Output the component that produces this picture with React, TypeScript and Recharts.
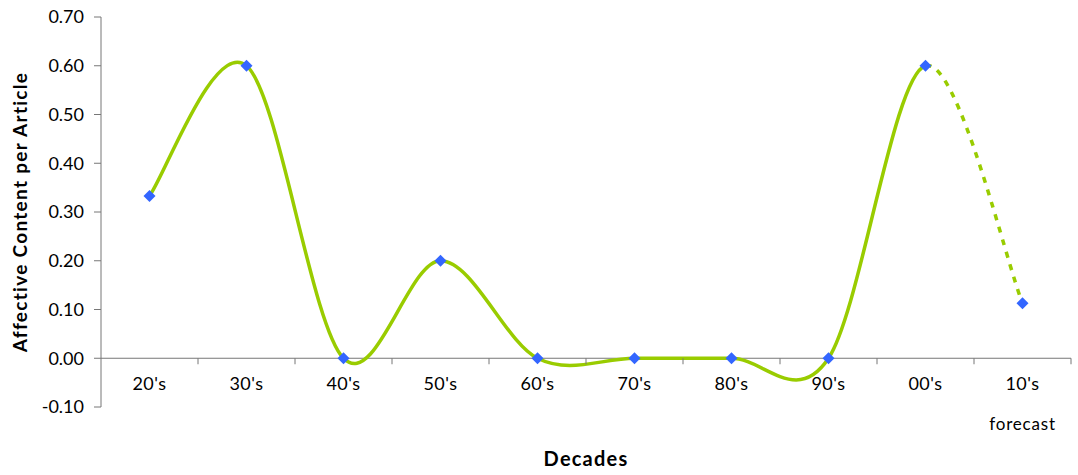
import React from "react";
import { LineChart, Line, XAxis, YAxis, ReferenceLine } from "recharts";

const categories = ["20's", "30's", "40's", "50's", "60's", "70's", "80's", "90's", "00's", "10's"];
const subLabels = ["", "", "", "", "", "", "", "", "", "forecast"];
const values = [0.333, 0.6, 0.0, 0.2, 0.0, 0.0, 0.0, 0.0, 0.6, 0.113];
const yTicks = [-0.1, 0, 0.1, 0.2, 0.3, 0.4, 0.5, 0.6, 0.7];

const data = categories.map((c, i) => ({ name: c, sub: subLabels[i], value: values[i] }));

const FONT = "Lato, 'Open Sans', sans-serif";
const GREEN = "#99CC00";
const BLUE = "#3366FF";
const AXIS = "#777777";

// Excel-like smoothed curve (Catmull-Rom style Bezier); mode selects which segments to draw
function segmentCurve(mode: "solid" | "last") {
  return (context: any) => {
    let pts: number[][] = [];
    return {
      areaStart() {},
      areaEnd() {},
      lineStart() {
        pts = [];
      },
      point(x: number, y: number) {
        pts.push([+x, +y]);
      },
      lineEnd() {
        const n = pts.length;
        if (n < 2) return;
        const from = mode === "solid" ? 0 : n - 2;
        const to = mode === "solid" ? n - 2 : n - 1;
        let started = false;
        for (let i = from; i < to; i++) {
          const p0 = pts[i - 1] || pts[i];
          const p1 = pts[i];
          const p2 = pts[i + 1];
          const p3 = pts[i + 2] || pts[i + 1];
          const c1x = p1[0] + (p2[0] - p0[0]) / 6;
          const c1y = p1[1] + (p2[1] - p0[1]) / 6;
          const c2x = p2[0] - (p3[0] - p1[0]) / 6;
          const c2y = p2[1] - (p3[1] - p1[1]) / 6;
          if (!started) {
            context.moveTo(p1[0], p1[1]);
            started = true;
          }
          context.bezierCurveTo(c1x, c1y, c2x, c2y, p2[0], p2[1]);
        }
      },
    };
  };
}

const solidCurve = segmentCurve("solid");
const lastCurve = segmentCurve("last");

const Diamond = (props: any) => {
  const { cx, cy, index } = props;
  if (cx == null || cy == null) return <g key={index} />;
  const s = 6;
  return (
    <path
      key={index}
      d={`M${cx},${cy - s}L${cx + s},${cy}L${cx},${cy + s}L${cx - s},${cy}Z`}
      fill={BLUE}
    />
  );
};

const HALF_BAND = 48.5;
const ZERO_OFFSET = 48.75;

const XTick = (props: any) => {
  const { x, y, payload, index } = props;
  const d = data[index] || { sub: "" };
  const zy = y - ZERO_OFFSET;
  return (
    <g>
      <line x1={x + HALF_BAND} y1={zy} x2={x + HALF_BAND} y2={zy + 6} stroke={AXIS} strokeWidth={1} />
      <text x={x} y={y - 17} textAnchor="middle" fontFamily={FONT} fontSize={18} letterSpacing={0.5} fill="#000">
        {payload.value}
      </text>
      {d.sub ? (
        <text x={x} y={y + 23} textAnchor="middle" fontFamily={FONT} fontSize={17} letterSpacing={0.8} fill="#000">
          {d.sub}
        </text>
      ) : null}
    </g>
  );
};

const YLabel = (props: any) => {
  const vb = props.viewBox || {};
  const cx = (vb.x || 0) + 19;
  const cy = (vb.y || 0) + (vb.height || 0) / 2;
  return (
    <text
      x={cx}
      y={cy}
      transform={`rotate(-90, ${cx}, ${cy})`}
      textAnchor="middle"
      dominantBaseline="central"
      fontFamily={FONT}
      fontWeight="bold"
      fontSize={19}
      letterSpacing={1.3}
      fill="#000"
    >
      Affective Content per Article
    </text>
  );
};

export default function App() {
  return (
    <div style={{ position: "absolute", left: 0, top: 0, width: 1078, height: 475, background: "#fff" }}>
      <LineChart width={1078} height={475} data={data} margin={{ top: 17, right: 7, bottom: 0, left: 0 }}>
        <XAxis
          dataKey="name"
          axisLine={false}
          tickLine={false}
          tickSize={0}
          tickMargin={0}
          height={68}
          interval={0}
          padding={{ left: HALF_BAND, right: HALF_BAND }}
          tick={<XTick />}
          label={{
            value: "Decades",
            position: "insideBottom",
            offset: 9,
            style: { fontFamily: FONT, fontWeight: "bold", fontSize: 20, letterSpacing: 1.2, fill: "#000" },
          }}
        />
        <YAxis
          domain={[-0.1, 0.7]}
          ticks={yTicks}
          interval={0}
          width={101}
          tickFormatter={(v: number) => v.toFixed(2)}
          axisLine={{ stroke: AXIS, strokeWidth: 1 }}
          tickLine={{ stroke: AXIS, strokeWidth: 1 }}
          tickSize={7}
          tickMargin={10}
          tick={{ fontFamily: FONT, fontSize: 18, fill: "#000" }}
          label={<YLabel />}
        />
        <ReferenceLine y={0} stroke={AXIS} strokeWidth={1} ifOverflow="visible" />
        <Line
          dataKey="value"
          type={solidCurve as any}
          stroke={GREEN}
          strokeWidth={3.5}
          dot={false}
          activeDot={false}
          isAnimationActive={false}
        />
        <Line
          dataKey="value"
          type={lastCurve as any}
          stroke={GREEN}
          strokeWidth={3.5}
          strokeDasharray="6 7"
          dot={<Diamond />}
          activeDot={false}
          isAnimationActive={false}
        />
      </LineChart>
    </div>
  );
}
